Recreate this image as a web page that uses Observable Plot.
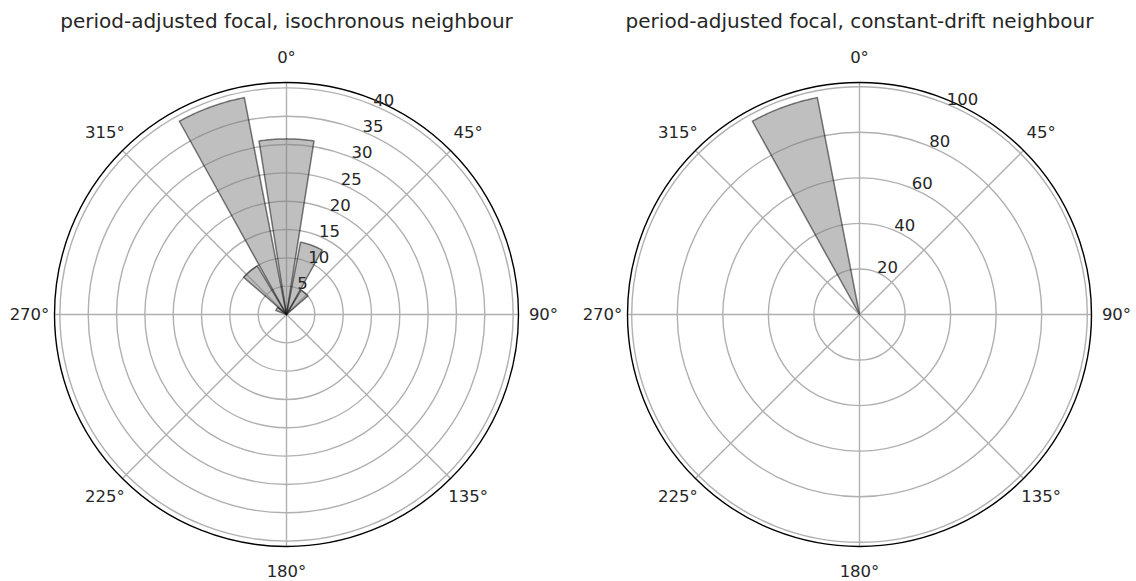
<!DOCTYPE html>
<html>
<head>
<meta charset="utf-8">
<script src="https://cdn.jsdelivr.net/npm/d3@7"></script>
<script src="https://cdn.jsdelivr.net/npm/@observablehq/plot@0.6"></script>
<style>
  html, body { margin: 0; padding: 0; background: #fff; }
  #wrap { display: flex; flex-direction: row; width: 1136px; height: 581px; }
  svg { display: block; }
</style>
</head>
<body>
<div id="wrap"></div>
<script>
// ---- data ----
const leftTitle = "period-adjusted focal, isochronous neighbour";
const rightTitle = "period-adjusted focal, constant-drift neighbour";
const leftAngles = [-60, -40, -20, 0, 20, 40];     // bin centres (deg, clockwise from north)
const leftCounts = [2, 10, 39, 31, 13, 5];
const rightAngles = [-20];
const rightCounts = [97];
const leftRings = [5, 10, 15, 20, 25, 30, 35, 40];
const rightRings = [20, 40, 60, 80, 100];
const thetaTicks = [0, 45, 90, 135, 180, 225, 270, 315];
const binWidth = 20;      // degrees
const barFrac = 0.9;      // bar width as fraction of bin

const FONT = "DejaVu Sans, sans-serif";
const TXT = "#262626";
const rad = d => d * Math.PI / 180;

function panel({title, angles, counts, rings, width, cx}) {
  const R = 232, cy = 314;
  const rmax = d3.max(counts) * 1.05;
  const half = binWidth * barFrac / 2;
  const pts = [];
  angles.forEach((a, i) => {
    const v = counts[i];
    pts.push({id: i, x: 0, y: 0});
    for (let t = a - half; t <= a + half + 1e-9; t += 0.5) {
      pts.push({id: i, x: v * Math.sin(rad(t)), y: v * Math.cos(rad(t))});
    }
    pts.push({id: i, x: 0, y: 0});
  });
  const rl = rmax * 257 / R;
  const rlab = 22.5;
  return Plot.plot({
    width, height: 581,
    margin: 0,
    style: {fontFamily: FONT, background: "white", overflow: "visible"},
    x: {type: "linear", domain: [-rmax, rmax], range: [cx - R, cx + R], axis: null},
    y: {type: "linear", domain: [-rmax, rmax], range: [cy + R, cy - R], axis: null},
    r: {type: "linear", domain: [0, rmax], range: [0, R]},
    marks: [
      Plot.dot(rings, {x: () => 0, y: () => 0, r: d => d, fill: "none", stroke: "#b0b0b0", strokeWidth: 1.4}),
      Plot.link(thetaTicks, {x1: () => 0, y1: () => 0,
        x2: d => rmax * Math.sin(rad(d)), y2: d => rmax * Math.cos(rad(d)),
        stroke: "#b0b0b0", strokeWidth: 1.4}),
      Plot.line(pts, {x: "x", y: "y", z: "id", curve: "linear",
        fill: "gray", fillOpacity: 0.5, stroke: "black", strokeOpacity: 0.5, strokeWidth: 1.5}),
      Plot.dot([rmax], {x: () => 0, y: () => 0, r: d => d, fill: "none", stroke: "black", strokeWidth: 1.4}),
      Plot.text(thetaTicks, {x: d => rl * Math.sin(rad(d)), y: d => rl * Math.cos(rad(d)),
        text: d => `${d}°`, fontSize: 16.5, fill: TXT}),
      Plot.text(rings, {x: d => d * Math.sin(rad(rlab)), y: d => d * Math.cos(rad(rlab)),
        text: d => String(d), textAnchor: "start", lineAnchor: "bottom", dx: 0, dy: 1,
        fontSize: 16.5, fill: TXT}),
      Plot.text([title], {x: () => 0, y: () => rmax * (cy - 21) / R, text: d => d,
        fontSize: 20, fill: TXT, lineAnchor: "middle"})
    ]
  });
}

const wrap = document.getElementById("wrap");
wrap.append(panel({title: leftTitle, angles: leftAngles, counts: leftCounts, rings: leftRings, width: 568, cx: 286}));
wrap.append(panel({title: rightTitle, angles: rightAngles, counts: rightCounts, rings: rightRings, width: 568, cx: 291}));
</script>
</body>
</html>
